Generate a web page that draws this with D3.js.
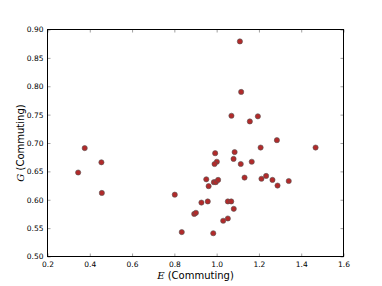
<!DOCTYPE html>
<html>
<head>
<meta charset="utf-8">
<script src="https://cdn.jsdelivr.net/npm/d3@7"></script>
<style>
  body { margin: 0; background: #fff; }
  text { font-family: "DejaVu Sans", sans-serif; fill: #000; }
</style>
</head>
<body>
<svg id="chart"></svg>
<script>
// E (Commuting) vs G (Commuting) values
const eValues = [1.110, 1.116, 1.070, 1.157, 1.195, 1.285, 1.208, 1.468, 0.993, 1.085,
  1.080, 1.001, 0.990, 1.114, 1.166, 0.951, 0.987, 0.996, 1.007, 0.962,
  1.132, 1.212, 1.234, 1.264, 1.288, 1.341, 0.928, 0.958, 1.053, 1.069,
  1.081, 0.894, 0.902, 1.031, 1.053, 0.984, 0.835,
  0.376, 0.455, 0.345, 0.457, 0.802];
const gValues = [0.879, 0.790, 0.748, 0.738, 0.747, 0.705, 0.692, 0.692, 0.682, 0.684,
  0.672, 0.667, 0.663, 0.663, 0.667, 0.636, 0.631, 0.631, 0.635, 0.624,
  0.639, 0.637, 0.642, 0.635, 0.625, 0.633, 0.595, 0.597, 0.597, 0.597,
  0.584, 0.575, 0.577, 0.563, 0.567, 0.541, 0.543,
  0.691, 0.666, 0.648, 0.612, 0.609];
const xTicks = [0.2, 0.4, 0.6, 0.8, 1.0, 1.2, 1.4, 1.6];
const yTicks = [0.50, 0.55, 0.60, 0.65, 0.70, 0.75, 0.80, 0.85, 0.90];

const width = 382, height = 286;
const margin = { top: 29.5, right: 38.5, bottom: 29.5, left: 47.5 };
const w = width - margin.left - margin.right;
const h = height - margin.top - margin.bottom;

const svg = d3.select("#chart").attr("width", width).attr("height", height);
const g = svg.append("g").attr("transform", `translate(${margin.left},${margin.top})`);

const x = d3.scaleLinear().domain([0.2, 1.6]).range([0, w]);
const y = d3.scaleLinear().domain([0.5, 0.9]).range([h, 0]);

// inward ticks on all four sides, matplotlib style
const tickLen = 3;
g.append("g").attr("transform", `translate(0,${h})`)
  .call(d3.axisBottom(x).tickValues(xTicks).tickSizeInner(-tickLen).tickSizeOuter(0).tickPadding(5).tickFormat(d3.format(".1f")))
  .call(a => a.select(".domain").remove());
g.append("g")
  .call(d3.axisLeft(y).tickValues(yTicks).tickSizeInner(-tickLen).tickSizeOuter(0).tickPadding(4).tickFormat(d3.format(".2f")))
  .call(a => a.select(".domain").remove());
g.append("g")
  .call(d3.axisTop(x).tickValues(xTicks).tickSizeInner(-tickLen).tickSizeOuter(0).tickFormat(""))
  .call(a => a.select(".domain").remove());
g.append("g").attr("transform", `translate(${w},0)`)
  .call(d3.axisRight(y).tickValues(yTicks).tickSizeInner(-tickLen).tickSizeOuter(0).tickFormat(""))
  .call(a => a.select(".domain").remove());

g.selectAll(".tick line").attr("stroke", "#888").attr("stroke-width", 0.8);
g.selectAll(".tick text").attr("font-size", 7.5).attr("font-family", "DejaVu Sans").attr("fill", "#000");

g.append("rect").attr("width", w).attr("height", h)
  .attr("fill", "none").attr("stroke", "#000").attr("stroke-width", 1);

g.selectAll("circle.pt")
  .data(eValues.map((e, i) => [e, gValues[i]]))
  .enter().append("circle")
  .attr("class", "pt")
  .attr("cx", d => x(d[0]))
  .attr("cy", d => y(d[1]))
  .attr("r", 2.6)
  .attr("fill", "#b22a2a")
  .attr("stroke", "#555")
  .attr("stroke-width", 0.6);

const xl = svg.append("text")
  .attr("x", margin.left + w / 2).attr("y", height - 7)
  .attr("text-anchor", "middle").attr("font-size", 10);
xl.append("tspan").attr("font-style", "italic").attr("font-family", "DejaVu Serif").text("E");
xl.append("tspan").text(" (Commuting)");

const yl = svg.append("text")
  .attr("transform", `translate(24,${margin.top + h / 2}) rotate(-90)`)
  .attr("text-anchor", "middle").attr("font-size", 10);
yl.append("tspan").attr("font-style", "italic").attr("font-family", "DejaVu Serif").text("G");
yl.append("tspan").text(" (Commuting)");
</script>
</body>
</html>
